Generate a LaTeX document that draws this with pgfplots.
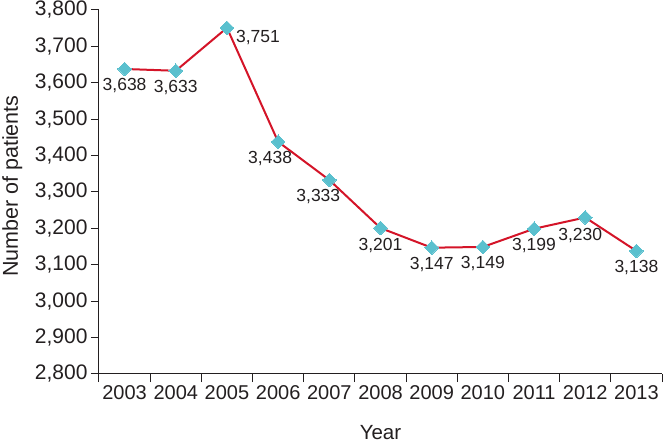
\documentclass[border=0pt]{standalone}
\usepackage{pgfplots}
\pgfplotsset{compat=1.18}
\usepackage{pgfplotstable}
\usepackage{fontspec}
\setmainfont{Liberation Sans}
\definecolor{linered}{RGB}{212,20,40}
\definecolor{mk}{RGB}{90,192,206}
\definecolor{txt}{RGB}{35,31,32}
\pgfplotstableread{
x y label
0 3638 3,638
1 3633 3,633
2 3751 3,751
3 3438 3,438
4 3333 3,333
5 3201 3,201
6 3147 3,147
7 3149 3,149
8 3199 3,199
9 3230 3,230
10 3138 3,138
}\datatable
\pgfplotstableread{
x y label
0 3638 3,638
1 3633 3,633
5 3201 3,201
6 3147 3,147
7 3149 3,149
8 3199 3,199
10 3138 3,138
}\labbelow
\pgfplotstableread{
x y label
2 3751 3,751
}\labright
\pgfplotstableread{
x y label
3 3438 3,438
}\labla
\pgfplotstableread{
x y label
4 3333 3,333
}\labxb
\pgfplotstableread{
x y label
9 3230 3,230
}\labc
\begin{document}
\begin{tikzpicture}
\begin{axis}[
  name=ax,
  scale only axis,
  width=563pt, height=364pt,
  xmin=-0.5, xmax=10.5,
  ymin=2800, ymax=3800,
  clip=false,
  axis lines*=left,
  axis line style={line width=1pt, color=txt},
  tick align=outside,
  major tick length=8pt,
  tick style={line width=1pt, color=txt},
  xtick={-0.5,0.5,...,10.5},
  xticklabels={2003,2004,2005,2006,2007,2008,2009,2010,2011,2012,2013,{}},
  xticklabel style={xshift=25.6pt, font=\fontsize{20}{22}\selectfont, text=txt},
  ytick={2800,2900,...,3800},
  scaled y ticks=false,
  yticklabel style={font=\fontsize{21}{23}\selectfont, text=txt,
    /pgf/number format/.cd, 1000 sep={,}, assume math mode=true},
  xlabel={Year},
  ylabel={Number of patients},
  xlabel style={at={(axis description cs:0.5,0)}, anchor=north, inner sep=0pt, yshift=-51pt, font=\fontsize{20.5}{22}\selectfont, text=txt},
  ylabel style={at={(axis description cs:0,0.516)}, anchor=north, inner sep=0pt, yshift=97pt, font=\fontsize{21.5}{23}\selectfont, text=txt},
  lab/.style 2 args={draw=none, mark=none, nodes near coords, point meta=explicit symbolic,
    every node near coord/.append style={anchor=center, xshift=#1, yshift=#2, font=\fontsize{17.5}{19}\selectfont, text=txt}},
]
\coordinate (bl) at (rel axis cs:0,0);
\coordinate (tr) at (rel axis cs:1,1);
\addplot[color=linered, line width=2pt,
  mark=square*, mark size=4.8pt,
  mark options={fill=mk, draw=mk, rotate=45, line width=0pt},
] table[x=x, y=y]{\datatable};
\addplot[lab={0pt}{-17pt}] table[x=x, y=y, meta=label]{\labbelow};
\addplot[lab={31pt}{-10pt}] table[x=x, y=y, meta=label]{\labright};
\addplot[lab={-8pt}{-17pt}] table[x=x, y=y, meta=label]{\labla};
\addplot[lab={-11pt}{-17pt}] table[x=x, y=y, meta=label]{\labxb};
\addplot[lab={-5pt}{-18pt}] table[x=x, y=y, meta=label]{\labc};
\end{axis}
\pgfresetboundingbox
\path ([shift={(-99pt,-70pt)}]bl) rectangle ([shift={(2pt,10pt)}]tr);
\end{tikzpicture}
\end{document}
